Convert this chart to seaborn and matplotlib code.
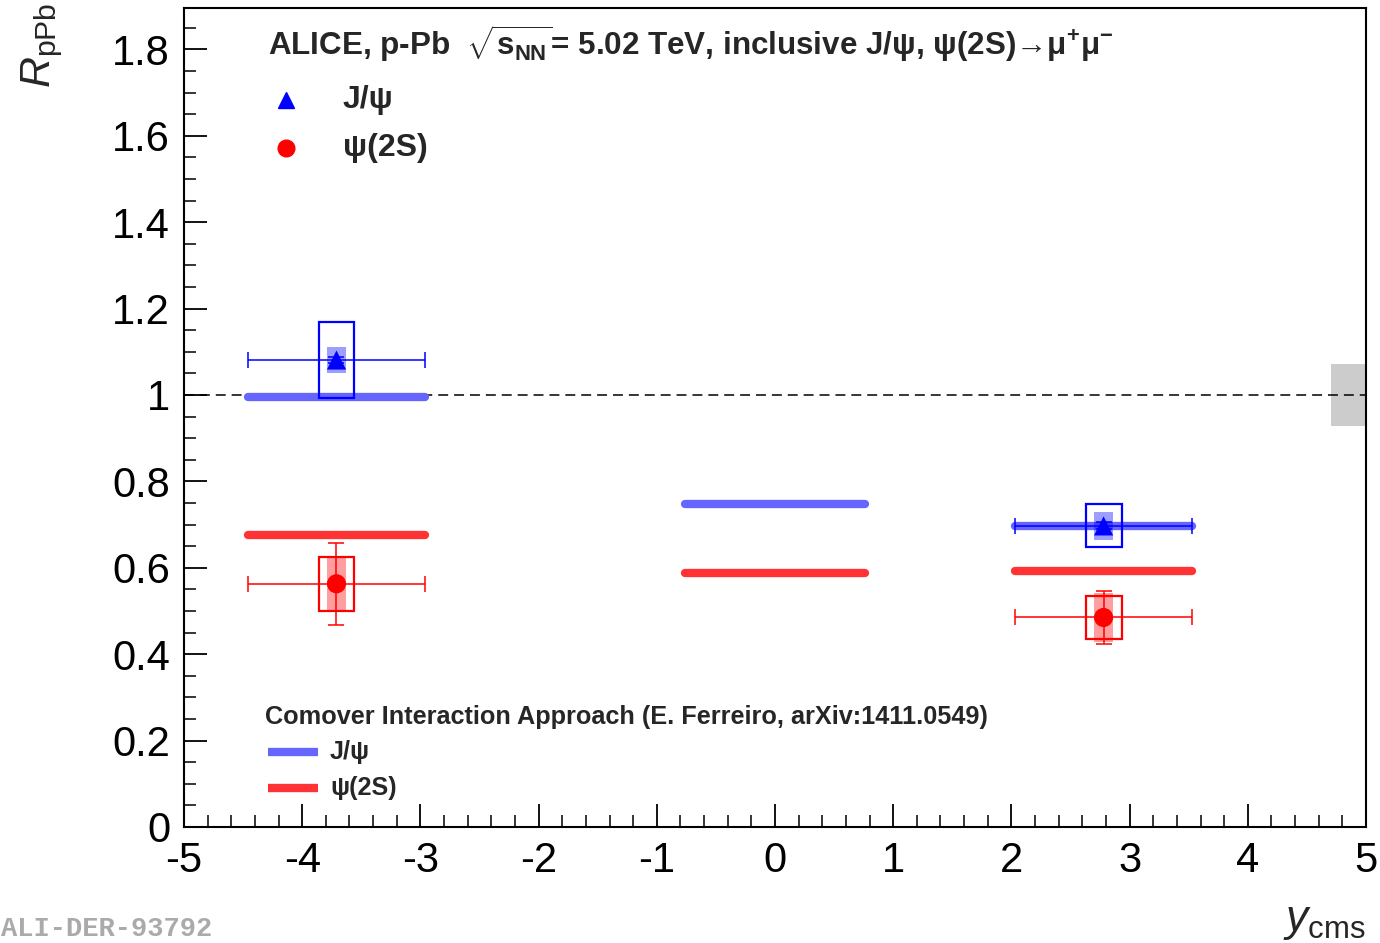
import numpy as np
import pandas as pd
import matplotlib
matplotlib.use('Agg')
import matplotlib.pyplot as plt
from matplotlib.patches import Rectangle
import seaborn as sns

# ---------------- data ----------------
species = ['J/ψ', 'ψ(2S)']
bin_low = [-4.46, 2.03]
bin_high = [-2.96, 3.53]
jpsi_val = [1.081, 0.697]
jpsi_stat = [0.008, 0.008]
jpsi_syst = [0.088, 0.05]
jpsi_syst_corr = [0.03, 0.032]
psi2s_val = [0.563, 0.485]
psi2s_stat = [0.095, 0.062]
psi2s_syst = [0.062, 0.05]
psi2s_syst_corr = [0.062, 0.057]

model_low = [-4.46, -0.76, 2.03]
model_high = [-2.96, 0.76, 3.53]
model_jpsi = [0.995, 0.748, 0.697]
model_psi2s = [0.676, 0.588, 0.593]

global_unc = 0.072
xticks = [-5, -4, -3, -2, -1, 0, 1, 2, 3, 4, 5]
yticks = [0, 0.2, 0.4, 0.6, 0.8, 1.0, 1.2, 1.4, 1.6, 1.8]
ytick_labels = ['0', '0.2', '0.4', '0.6', '0.8', '1', '1.2', '1.4', '1.6', '1.8']

# ---------------- style ----------------
sns.set_theme(style='ticks')
plt.rcParams['font.family'] = ['Liberation Sans', 'DejaVu Sans']
plt.rcParams['mathtext.fontset'] = 'custom'
plt.rcParams['mathtext.rm'] = 'Liberation Sans'
plt.rcParams['mathtext.it'] = 'Liberation Sans:italic'
plt.rcParams['mathtext.bf'] = 'Liberation Sans:bold'
plt.rcParams['axes.unicode_minus'] = False

W, H = 1380, 943
fig = plt.figure(figsize=(W / 100, H / 100), dpi=100)
L, R, B, T = 184, 1366, 827, 8
ax = fig.add_axes([L / W, 1 - B / H, (R - L) / W, (B - T) / H])
ax.set_facecolor('white')

colors = {'J/ψ': '#0000ff', 'ψ(2S)': '#ff0000'}
model_colors = {'J/ψ': '#6666ff', 'ψ(2S)': '#ff3333'}

# global uncertainty box and reference line
ax.add_patch(Rectangle((4.7, 1 - global_unc), 0.3, 2 * global_unc,
                       fc='#cccccc', lw=0, zorder=1))
ax.axhline(1.0, color='black', lw=1.1, ls=(0, (6.5, 3.9)), zorder=2)

# ---------------- model (comover) ----------------
rows = []
for name, vals in (('J/ψ', model_jpsi), ('ψ(2S)', model_psi2s)):
    for i, v in enumerate(vals):
        rows.append(dict(x=model_low[i], y=v, seg=f'{name}{i}', species=name))
        rows.append(dict(x=model_high[i], y=v, seg=f'{name}{i}', species=name))
dfm = pd.DataFrame(rows)
sns.lineplot(data=dfm, x='x', y='y', hue='species', units='seg', estimator=None,
             palette=model_colors, lw=6.0, legend=False, sort=False, ax=ax, zorder=3)

# ---------------- data ----------------
centers = [(a + b) / 2 for a, b in zip(bin_low, bin_high)]
halfw = [(b - a) / 2 for a, b in zip(bin_low, bin_high)]
for name, vals, stat, syst, sc in (('J/ψ', jpsi_val, jpsi_stat, jpsi_syst, jpsi_syst_corr),
                                  ('ψ(2S)', psi2s_val, psi2s_stat, psi2s_syst, psi2s_syst_corr)):
    c = colors[name]
    for xc, v, s, s2 in zip(centers, vals, syst, sc):
        ax.add_patch(Rectangle((xc - 0.083, v - s2), 0.166, 2 * s2, fc=c, alpha=0.38,
                               lw=0, zorder=4))
        ax.add_patch(Rectangle((xc - 0.152, v - s), 0.304, 2 * s, fill=False, ec=c,
                               lw=1.6, zorder=5))
    ax.errorbar(centers, vals, xerr=halfw, yerr=stat, fmt='none', ecolor=c,
                elinewidth=1.1, capsize=5.5, capthick=1.1, zorder=6)

dfp = pd.DataFrame({
    'y': centers + centers,
    'R': jpsi_val + psi2s_val,
    'species': ['J/ψ'] * len(centers) + ['ψ(2S)'] * len(centers),
})
sns.scatterplot(data=dfp, x='y', y='R', hue='species', style='species',
                markers={'J/ψ': '^', 'ψ(2S)': 'o'}, palette=colors, s=190,
                linewidth=0, legend=False, ax=ax, zorder=7)

# ---------------- axes ----------------
ax.set_xlim(-5, 5)
ax.set_ylim(0, (B - T) / 432)
ax.set_xticks(xticks)
ax.set_xticklabels([str(t) for t in xticks])
ax.set_xticks(np.arange(-5, 5.001, 0.2), minor=True)
ax.set_yticks(yticks)
ax.set_yticklabels(ytick_labels)
ax.set_yticks(np.arange(0, 1.9, 0.05), minor=True)
ax.tick_params(which='major', direction='in', length=16.5, width=1.3,
               labelsize=30, colors='black', top=False, right=False)
ax.tick_params(which='minor', direction='in', length=8.6, width=1.3,
               top=False, right=False)
ax.tick_params(axis='x', which='major', pad=10)
ax.tick_params(axis='y', which='major', pad=10)
for sp in ax.spines.values():
    sp.set_visible(True)
    sp.set_linewidth(1.5)
    sp.set_color('black')
ax.set_xlabel('')
ax.set_ylabel('')

fig.text(42 / W, 1 - 3 / H, r'$R_{\mathrm{pPb}}$', rotation=90, ha='center', va='top',
         fontsize=31)
fig.text(1366 / W, 1 / H, r'$y_{\mathrm{cms}}$', ha='right', va='bottom', fontsize=32)


def axf(px, py):
    return (px - L) / (R - L), (B - py) / (B - T)


# header
tx, ty = axf(268, 44)
ax.text(tx, ty, r'ALICE, p-Pb  $\sqrt{\mathbf{s}_{\mathbf{NN}}}$= 5.02 TeV, inclusive J/ψ, ψ(2S)→μ$^{\mathbf{+}}$μ$^{\mathbf{-}}$',
        transform=ax.transAxes, ha='left', va='center', fontsize=22.6, fontweight='bold')

# data legend
for (py, name, mk) in ((100, 'J/ψ', '^'), (148, 'ψ(2S)', 'o')):
    mx, my = axf(286, py)
    ax.plot([mx], [my], marker=mk, color=colors[name], ms=12, ls='none',
            transform=ax.transAxes, clip_on=False)
    lx, ly = axf(343, py)
    ax.text(lx, ly, name, transform=ax.transAxes, ha='left', va='center',
            fontsize=23, fontweight='bold')

# model legend
cx, cy = axf(265, 717)
ax.text(cx, cy, 'Comover Interaction Approach (E. Ferreiro, arXiv:1411.0549)',
        transform=ax.transAxes, ha='left', va='center', fontsize=18.2, fontweight='bold')
for (py, name) in ((752, 'J/ψ'), (788, 'ψ(2S)')):
    x0, y0 = axf(268, py)
    x1, _ = axf(318, py)
    ax.plot([x0, x1], [y0, y0], color=model_colors[name], lw=6.0,
            solid_capstyle='butt', transform=ax.transAxes)
    lx, ly = axf(330, py)
    ax.text(lx, ly, name, transform=ax.transAxes, ha='left', va='center',
            fontsize=18.2, fontweight='bold')

fig.text(1 / W, 1 / H, 'ALI-DER-93792', ha='left', va='bottom',
         family='Liberation Mono', fontweight='bold', fontsize=19.5, color='#aaaaaa')

fig.savefig('out.png', dpi=100, facecolor='white')
